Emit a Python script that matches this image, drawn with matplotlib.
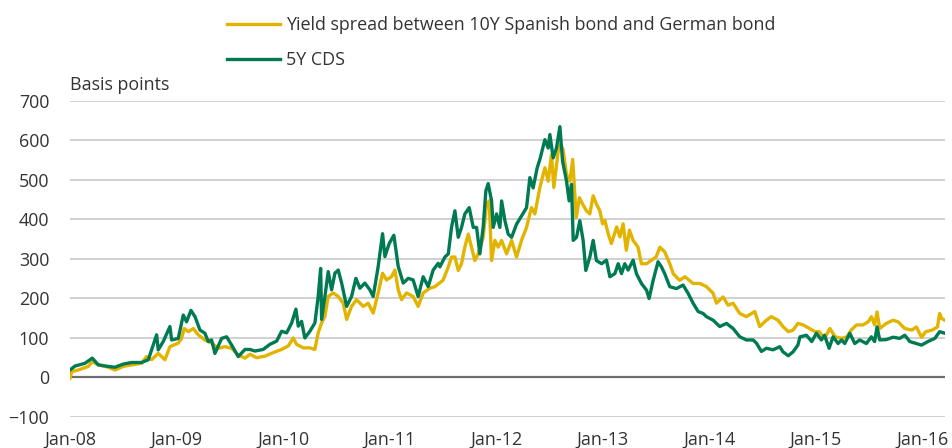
import matplotlib
matplotlib.use("Agg")
import matplotlib.pyplot as plt

# decimal years, values in basis points
spread_t = [
    2008.00, 2008.016, 2008.078, 2008.172, 2008.209, 2008.266, 2008.36, 2008.422, 2008.50, 2008.579,
    2008.672, 2008.719, 2008.766, 2008.828, 2008.891, 2008.938, 2009.016, 2009.047, 2009.072, 2009.11,
    2009.157, 2009.204, 2009.266, 2009.329, 2009.392, 2009.454, 2009.517, 2009.579, 2009.642, 2009.689,
    2009.751, 2009.829, 2009.907, 2009.986, 2010.049, 2010.095, 2010.126, 2010.189, 2010.251, 2010.298,
    2010.329, 2010.361, 2010.392, 2010.423, 2010.47, 2010.517, 2010.564, 2010.596, 2010.642, 2010.689,
    2010.752, 2010.798, 2010.845, 2010.892, 2010.933, 2010.97, 2011.017, 2011.049, 2011.08, 2011.111,
    2011.158, 2011.22, 2011.267, 2011.314, 2011.377, 2011.424, 2011.50, 2011.55, 2011.58, 2011.612,
    2011.643, 2011.674, 2011.705, 2011.737, 2011.768, 2011.799, 2011.83, 2011.877, 2011.909, 2011.934,
    2011.956, 2011.987, 2012.018, 2012.05, 2012.097, 2012.144, 2012.19, 2012.237, 2012.284, 2012.33,
    2012.362, 2012.409, 2012.456, 2012.487, 2012.518, 2012.54, 2012.581, 2012.602, 2012.627, 2012.659,
    2012.69, 2012.717, 2012.75, 2012.78, 2012.81, 2012.846, 2012.878, 2012.909, 2012.94, 2012.972,
    2012.997, 2013.019, 2013.05, 2013.08, 2013.13, 2013.16, 2013.19, 2013.22, 2013.25, 2013.284,
    2013.33, 2013.362, 2013.41, 2013.456, 2013.50, 2013.535, 2013.58, 2013.628, 2013.66, 2013.72,
    2013.77, 2013.847, 2013.91, 2013.972, 2014.035, 2014.066, 2014.128, 2014.175, 2014.222, 2014.285,
    2014.347, 2014.425, 2014.472, 2014.535, 2014.58, 2014.644, 2014.69, 2014.74, 2014.785, 2014.83,
    2014.88, 2014.94, 2014.99, 2015.03, 2015.08, 2015.13, 2015.18, 2015.24, 2015.29, 2015.33,
    2015.38, 2015.44, 2015.49, 2015.52, 2015.55, 2015.573, 2015.598, 2015.66, 2015.723, 2015.77,
    2015.833, 2015.90, 2015.942, 2015.99, 2016.03, 2016.09, 2016.14, 2016.16, 2016.18, 2016.21,
]
spread = [
    -2, 15, 19, 28, 40, 32, 26, 19, 28, 32,
    36, 53, 45, 61, 45, 78, 87, 99, 124, 116,
    124, 108, 95, 87, 74, 78, 74, 57, 49, 59,
    50, 54, 63, 71, 80, 100, 84, 75, 75, 71,
    113, 138, 155, 205, 214, 205, 188, 147, 180, 197,
    180, 188, 163, 214, 264, 247, 255, 272, 222, 197,
    214, 205, 180, 214, 226, 230, 246, 280, 305, 305,
    271, 288, 330, 363, 330, 296, 313, 355, 439, 447,
    296, 347, 330, 347, 313, 347, 305, 347, 380, 430,
    414, 481, 531, 497, 564, 481, 573, 590, 577, 514,
    497, 552, 405, 455, 439, 422, 414, 460, 439, 422,
    389, 398, 364, 339, 381, 356, 389, 322, 373, 347,
    330, 288, 288, 297, 305, 330, 318, 288, 263, 246,
    255, 238, 238, 230, 213, 188, 204, 183, 188, 162,
    154, 167, 129, 145, 154, 145, 129, 116, 120, 137,
    133, 124, 116, 116, 99, 124, 103, 99, 103, 120,
    133, 133, 141, 154, 133, 166, 124, 137, 145, 141,
    124, 120, 128, 102, 116, 120, 128, 162, 149, 145,
]

cds_t = [
    2008.00, 2008.047, 2008.141, 2008.209, 2008.266, 2008.36, 2008.422, 2008.50, 2008.579, 2008.672,
    2008.735, 2008.766, 2008.813, 2008.828, 2008.875, 2008.938, 2008.954, 2009.016, 2009.063, 2009.094,
    2009.135, 2009.173, 2009.22, 2009.266, 2009.298, 2009.329, 2009.36, 2009.423, 2009.47, 2009.517,
    2009.579, 2009.642, 2009.689, 2009.735, 2009.813, 2009.876, 2009.939, 2009.986, 2010.033, 2010.08,
    2010.12, 2010.142, 2010.173, 2010.204, 2010.251, 2010.298, 2010.329, 2010.352, 2010.361, 2010.392,
    2010.423, 2010.455, 2010.486, 2010.517, 2010.549, 2010.596, 2010.642, 2010.683, 2010.72, 2010.767,
    2010.814, 2010.845, 2010.892, 2010.933, 2010.955, 2010.995, 2011.039, 2011.08, 2011.127, 2011.174,
    2011.22, 2011.267, 2011.314, 2011.361, 2011.408, 2011.455, 2011.471, 2011.518, 2011.55, 2011.58,
    2011.612, 2011.643, 2011.674, 2011.705, 2011.746, 2011.784, 2011.815, 2011.846, 2011.877, 2011.902,
    2011.924, 2011.956, 2011.971, 2012.003, 2012.034, 2012.05, 2012.081, 2012.112, 2012.144, 2012.19,
    2012.237, 2012.284, 2012.315, 2012.346, 2012.384, 2012.409, 2012.456, 2012.487, 2012.503, 2012.534,
    2012.565, 2012.597, 2012.622, 2012.659, 2012.684, 2012.706, 2012.722, 2012.753, 2012.784, 2012.815,
    2012.84, 2012.878, 2012.909, 2012.94, 2012.988, 2013.034, 2013.066, 2013.113, 2013.144, 2013.175,
    2013.206, 2013.237, 2013.284, 2013.315, 2013.362, 2013.41, 2013.434, 2013.472, 2013.518, 2013.55,
    2013.58, 2013.628, 2013.69, 2013.753, 2013.80, 2013.847, 2013.894, 2013.941, 2013.972, 2014.035,
    2014.097, 2014.16, 2014.222, 2014.285, 2014.347, 2014.41, 2014.441, 2014.488, 2014.535, 2014.597,
    2014.66, 2014.69, 2014.74, 2014.785, 2014.83, 2014.85, 2014.91, 2014.96, 2015.004, 2015.05,
    2015.08, 2015.123, 2015.16, 2015.207, 2015.24, 2015.27, 2015.317, 2015.364, 2015.41, 2015.473,
    2015.52, 2015.55, 2015.573, 2015.598, 2015.66, 2015.723, 2015.786, 2015.833, 2015.88, 2015.942,
    2015.99, 2016.05, 2016.115, 2016.16, 2016.21,
]
cds = [
    19, 29, 36, 49, 32, 28, 26, 34, 38, 38,
    45, 70, 108, 70, 91, 129, 95, 99, 158, 141,
    170, 154, 120, 112, 91, 95, 61, 99, 103, 82,
    53, 71, 71, 67, 71, 84, 92, 117, 113, 138,
    173, 130, 142, 100, 117, 138, 205, 276, 147, 205,
    268, 222, 264, 272, 239, 180, 205, 251, 226, 239,
    222, 205, 281, 364, 306, 339, 360, 281, 239, 251,
    247, 205, 255, 230, 272, 289, 280, 305, 313, 380,
    422, 355, 380, 414, 430, 380, 380, 313, 380, 472,
    491, 447, 380, 414, 380, 447, 397, 363, 355, 388,
    409, 430, 506, 480, 531, 552, 602, 581, 615, 556,
    581, 635, 548, 497, 447, 489, 347, 355, 397, 347,
    271, 305, 347, 296, 288, 297, 255, 263, 288, 263,
    288, 272, 297, 263, 238, 221, 200, 246, 293, 280,
    263, 230, 225, 234, 213, 188, 167, 162, 154, 145,
    129, 137, 124, 103, 95, 95, 87, 66, 74, 70,
    78, 65, 55, 65, 82, 103, 107, 91, 112, 95,
    107, 74, 103, 86, 95, 86, 112, 86, 95, 86,
    103, 91, 128, 95, 96, 102, 99, 107, 91, 86,
    82, 91, 99, 116, 112,
]

year_ticks = [2008, 2009, 2010, 2011, 2012, 2013, 2014, 2015, 2016]
year_labels = ["Jan-08", "Jan-09", "Jan-10", "Jan-11", "Jan-12", "Jan-13", "Jan-14", "Jan-15", "Jan-16"]
y_ticks = [-100, 0, 100, 200, 300, 400, 500, 600, 700]

YELLOW = "#E2B400"
GREEN = "#007A52"
TEXT = "#333333"
FS = 12.9

plt.rcParams["font.family"] = ["Open Sans", "DejaVu Sans"]

fig = plt.figure(figsize=(9.52, 4.48), dpi=100)
ax = fig.add_axes([0.0735, 0.0692, 0.9191, 0.7054])

for y in y_ticks:
    if y == 0:
        ax.axhline(y, color="#6e6e6e", lw=1.6, zorder=1)
    else:
        ax.axhline(y, color="#c8c8c8", lw=1.2, zorder=1)

l1, = ax.plot(spread_t, spread, color=YELLOW, lw=2.4, zorder=2,
              label="Yield spread between 10Y Spanish bond and German bond")
l2, = ax.plot(cds_t, cds, color=GREEN, lw=2.4, zorder=3, label="5Y CDS")

ax.set_xlim(2008.0, 2016.21)
ax.set_ylim(-100, 700)
ax.set_xticks(year_ticks)
ax.set_xticklabels(year_labels)
ax.set_yticks(y_ticks)
ax.tick_params(length=0, labelsize=FS, colors=TEXT)
ax.tick_params(axis="y", pad=15)
ax.tick_params(axis="x", pad=10)
for s in ax.spines.values():
    s.set_visible(False)

fig.text(0.0735, 0.81, "Basis points", fontsize=FS, color=TEXT, va="center", ha="left")

fig.legend(handles=[l1, l2], loc="upper left", bbox_to_anchor=(0.221, 1.0),
           frameon=False, fontsize=FS, handlelength=3.0, handletextpad=0.3,
           labelspacing=0.95, labelcolor=TEXT)

fig.savefig("out.png", dpi=100)
